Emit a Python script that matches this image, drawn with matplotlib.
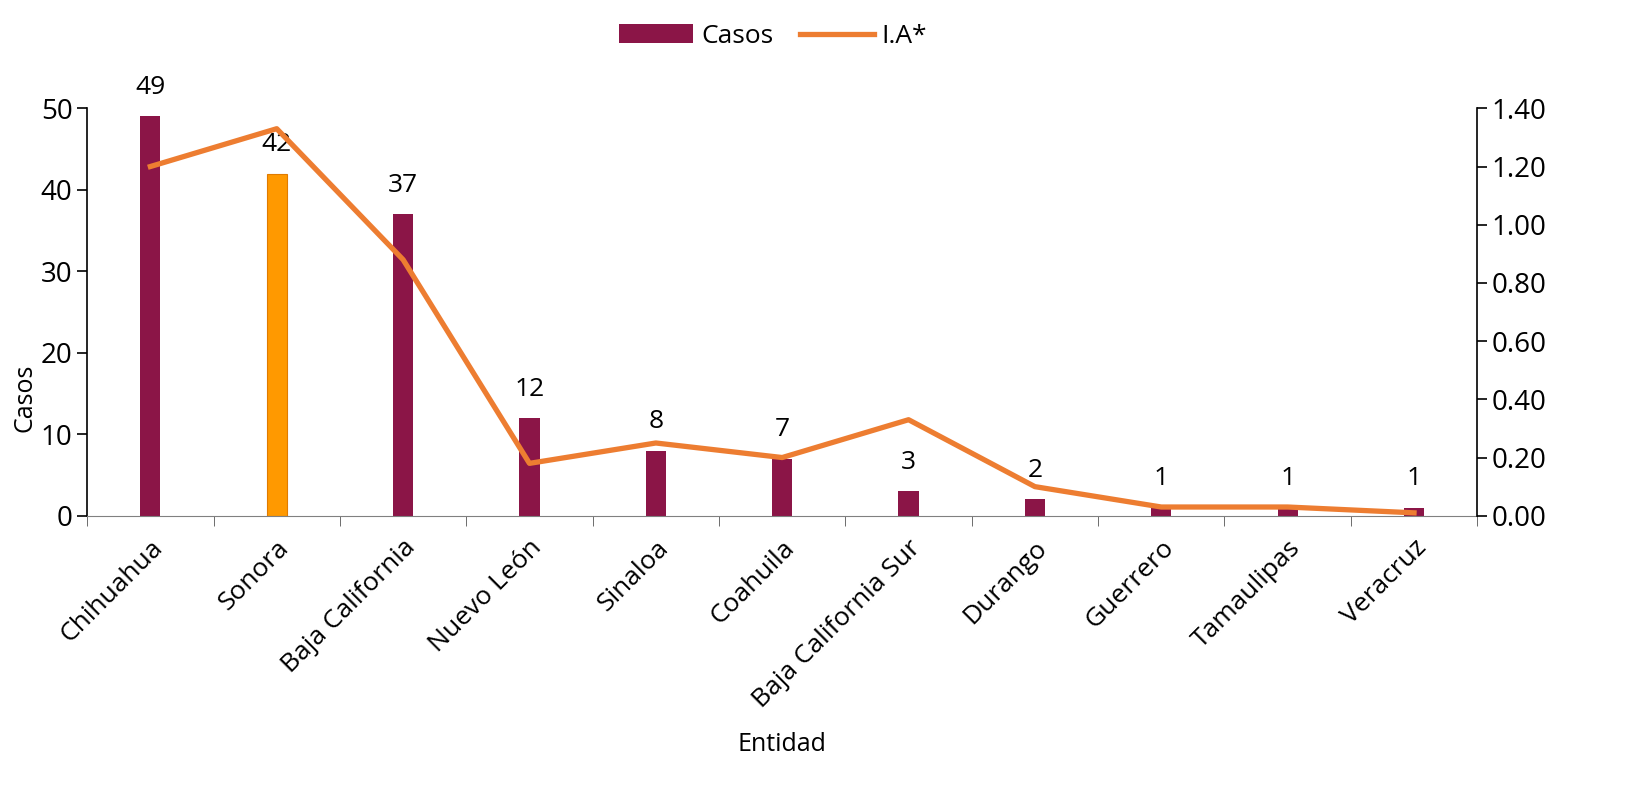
import numpy as np
import matplotlib.pyplot as plt
from matplotlib.ticker import FixedLocator, FormatStrFormatter

plt.rcParams['font.family'] = ['Open Sans', 'DejaVu Sans']

entidades = ['Chihuahua', 'Sonora', 'Baja California', 'Nuevo León', 'Sinaloa',
             'Coahuila', 'Baja California Sur', 'Durango', 'Guerrero', 'Tamaulipas', 'Veracruz']
casos = [49, 42, 37, 12, 8, 7, 3, 2, 1, 1, 1]
ia = [1.20, 1.33, 0.88, 0.18, 0.25, 0.20, 0.33, 0.10, 0.03, 0.03, 0.01]

bar_color = '#8B1547'
highlight = '#FF9900'
line_color = '#ED7D31'

fig = plt.figure(figsize=(16.45, 7.85), dpi=100)
ax = fig.add_axes([0.053, 0.343, 0.845, 0.519])
x = np.arange(len(entidades))
colors = [highlight if e == 'Sonora' else bar_color for e in entidades]
bars = ax.bar(x, casos, width=0.16, color=colors, label='Casos', zorder=2)
bars[1].set_edgecolor('#E07B00')
bars[1].set_linewidth(0.8)

for i, v in enumerate(casos):
    ax.text(i, v + 2.0, f'{v}', ha='center', va='bottom', fontsize=19)

ax.set_xlim(-0.5, len(entidades) - 0.5)
ax.set_ylim(0, 50)
ax.set_yticks(range(0, 51, 10))
ax.set_xticks(x)
ax.set_xticklabels(entidades, rotation=45, ha='right', rotation_mode='anchor', fontsize=19)
ax.tick_params(axis='x', which='major', length=0, pad=14)
ax.xaxis.set_minor_locator(FixedLocator(np.arange(-0.5, len(entidades), 1)))
ax.tick_params(axis='x', which='minor', length=7, color='#555555')
ax.tick_params(axis='y', labelsize=20, length=7, width=1.2)
ax.spines['top'].set_visible(False)
ax.spines['right'].set_visible(False)
ax.spines['bottom'].set_color('#808080')
ax.spines['left'].set_linewidth(1.2)
ax.set_ylabel('Casos', fontsize=18)
ax.yaxis.set_label_coords(-0.036, 0.29)
ax.set_xlabel('Entidad', fontsize=18)
ax.xaxis.set_label_coords(0.5, -0.53)

ax2 = ax.twinx()
ax2.plot(x, ia, color=line_color, linewidth=3.8, label='I.A*', zorder=3)
ax2.set_ylim(0, 1.4)
ax2.set_yticks(np.arange(0, 1.41, 0.2))
ax2.yaxis.set_major_formatter(FormatStrFormatter('%.2f'))
ax2.tick_params(axis='y', labelsize=20, length=7, width=1.2)
for s in ['top', 'left', 'bottom']:
    ax2.spines[s].set_visible(False)
ax2.spines['right'].set_linewidth(1.2)

h1, l1 = ax.get_legend_handles_labels()
h2, l2 = ax2.get_legend_handles_labels()
fig.legend([bars[0]] + h2, l1 + l2, loc='upper center', bbox_to_anchor=(0.47, 1.0),
           ncol=2, frameon=False, fontsize=19, handlelength=2.8, columnspacing=1.0, handletextpad=0.3)

fig.savefig('out.png', dpi=100)
